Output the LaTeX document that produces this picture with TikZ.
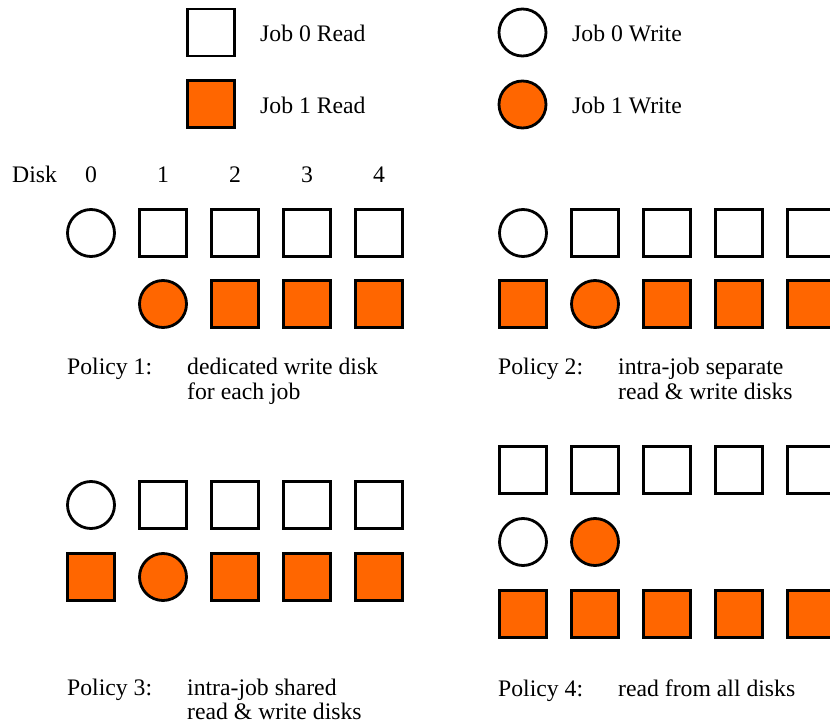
\documentclass[tikz,border=0pt]{standalone}
\usepackage{fontspec}
\setmainfont{LiberationSerif-Regular.ttf}
\definecolor{jobor}{HTML}{FF6600}
\tikzset{
  base/.style={draw=black, line width=2.8pt, inner sep=0pt, minimum size=47pt},
  rdzero/.style={base, rectangle, fill=white},
  rdone/.style={base, rectangle, fill=jobor},
  wrzero/.style={base, circle, fill=white},
  wrone/.style={base, circle, fill=jobor},
  lbl/.style={anchor=base west, inner sep=0pt, font=\fontsize{23.7}{25}\selectfont},
  num/.style={anchor=base, inner sep=0pt, font=\fontsize{23.7}{25}\selectfont}
}
\begin{document}
\begin{tikzpicture}[x=1pt,y=-1pt]
\useasboundingbox (0,0) rectangle (830,727);
\clip (0,0) rectangle (830,727);
% legend
\node[rdzero] (lr0) at (211,32.5) {};
\node[rdone]  (lr1) at (211,104) {};
\node[wrzero] (lw0) at (522.5,32.5) {};
\node[wrone]  (lw1) at (522.5,104.5) {};
\node[lbl] (tr0) at (260,42) {Job 0 Read};
\node[lbl] (tr1) at (260,114) {Job 1 Read};
\node[lbl] (tw0) at (572,42) {Job 0 Write};
\node[lbl] (tw1) at (572,114) {Job 1 Write};
% disk numbers
\node[lbl] (disk) at (12,183) {Disk};
\foreach \i/\x in {0/91,1/163,2/235,3/307,4/379}
  \node[num] (d\i) at (\x,183) {\i};
% Policy 1
\node[wrzero] (a00) at (91,233) {};
\foreach \i/\x in {1/163,2/235,3/307,4/379}
  \node[rdzero] (a0\i) at (\x,233) {};
\node[wrone] (a11) at (163,304) {};
\foreach \i/\x in {2/235,3/307,4/379}
  \node[rdone] (a1\i) at (\x,304) {};
\node[lbl] (p1) at (67,374) {Policy 1:};
\node[lbl] (p1a) at (187,374) {dedicated write disk};
\node[lbl] (p1b) at (187,399) {for each job};
% Policy 2
\node[wrzero] (b00) at (523,233) {};
\foreach \i/\x in {1/595,2/667,3/739,4/811}
  \node[rdzero] (b0\i) at (\x,233) {};
\node[rdone] (b10) at (523,304) {};
\node[wrone] (b11) at (595,304) {};
\foreach \i/\x in {2/667,3/739,4/811}
  \node[rdone] (b1\i) at (\x,304) {};
\node[lbl] (p2) at (498,374) {Policy 2:};
\node[lbl] (p2a) at (618,374) {intra-job separate};
\node[lbl] (p2b) at (618,399) {read \& write disks};
% Policy 3
\node[wrzero] (c00) at (91,505) {};
\foreach \i/\x in {1/163,2/235,3/307,4/379}
  \node[rdzero] (c0\i) at (\x,505) {};
\node[rdone] (c10) at (91,577) {};
\node[wrone] (c11) at (163,577) {};
\foreach \i/\x in {2/235,3/307,4/379}
  \node[rdone] (c1\i) at (\x,577) {};
\node[lbl] (p3) at (67,695) {Policy 3:};
\node[lbl] (p3a) at (187,695) {intra-job shared};
\node[lbl] (p3b) at (187,719) {read \& write disks};
% Policy 4
\foreach \i/\x in {0/523,1/595,2/667,3/739,4/811}
  \node[rdzero] (e0\i) at (\x,470) {};
\node[wrzero] (e10) at (523,542) {};
\node[wrone] (e11) at (595,542) {};
\foreach \i/\x in {0/523,1/595,2/667,3/739,4/811}
  \node[rdone] (e2\i) at (\x,614) {};
\node[lbl] (p4) at (498,696) {Policy 4:};
\node[lbl] (p4a) at (618,696) {read from all disks};
\end{tikzpicture}
\end{document}
